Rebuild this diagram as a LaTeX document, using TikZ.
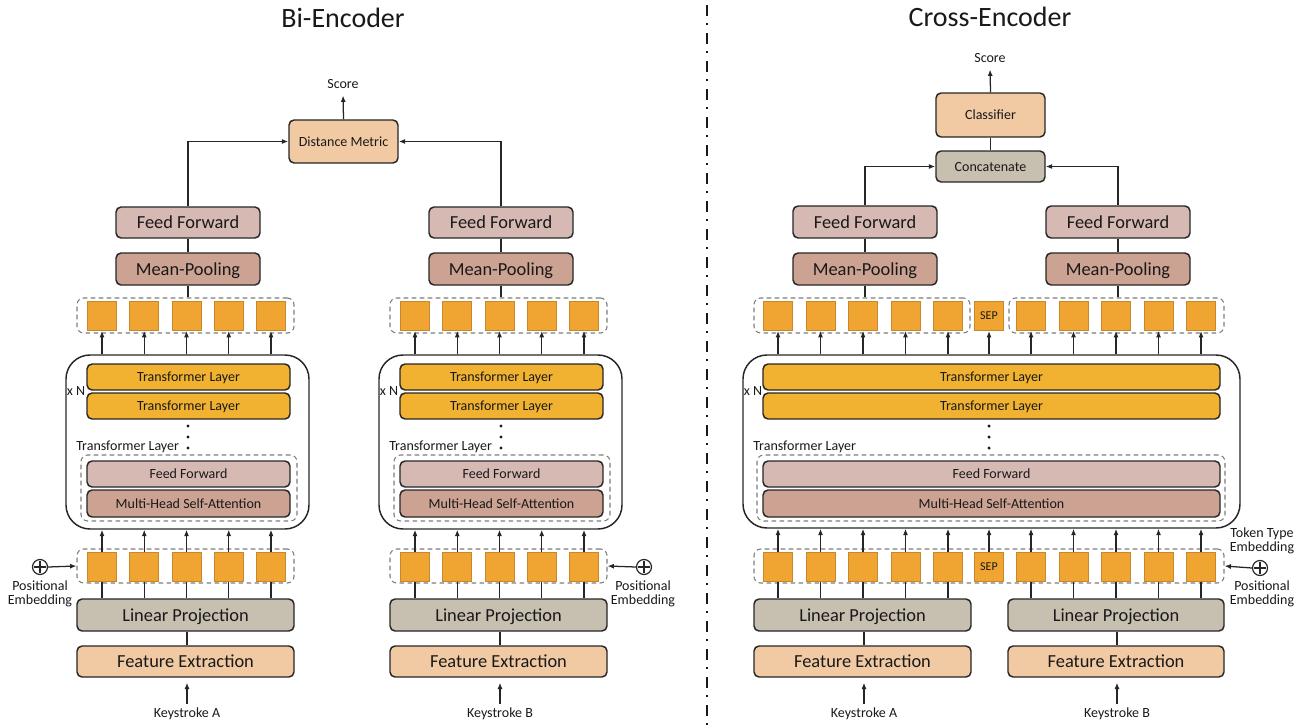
\documentclass[tikz,border=0pt]{standalone}
\usepackage{fontspec}
\setmainfont{Carlito}
\usetikzlibrary{arrows.meta,calc}

\definecolor{sq}{RGB}{240,165,50}
\definecolor{sqedge}{RGB}{200,135,40}
\definecolor{tl}{RGB}{240,178,48}
\definecolor{ff}{RGB}{214,185,179}
\definecolor{mp}{RGB}{204,162,146}
\definecolor{fe}{RGB}{241,202,164}
\definecolor{lp}{RGB}{199,191,175}
\definecolor{edge}{RGB}{38,38,38}
\definecolor{dash}{RGB}{125,125,125}
\definecolor{ink}{RGB}{25,25,25}

\tikzset{
  wh/.style 2 args={minimum width=#1*0.75pt, minimum height=#2*0.75pt},
  big/.style={font=\fontsize{13.8}{14}\selectfont, text=ink, text height=9pt, text depth=0pt},
  small/.style={font=\fontsize{10.5}{10.5}\selectfont, text=ink},
  title/.style={font=\fontsize{21}{22}\selectfont, text=ink},
  box/.style={draw=edge, line width=1.1pt, rounded corners=3.8pt, inner sep=0pt, big},
  layer/.style={box, small, text height=6.9pt, text depth=0pt},
  grp/.style={draw=dash, line width=0.8pt, dash pattern=on 3.5pt off 2.5pt, rounded corners=5pt, inner sep=0pt},
  enc/.style={draw=edge, line width=1.1pt, rounded corners=18pt, inner sep=0pt},
  sqr/.style={draw=sqedge, fill=sq, line width=0.7pt, minimum size=29*0.75pt, inner sep=0pt},
  plus/.style={circle, draw=edge, line width=0.9pt, minimum size=15*0.75pt, inner sep=0pt},
  dotn/.style={circle, fill=ink, minimum size=2.6pt, inner sep=0pt},
  conn/.style={draw=edge, line width=0.95pt},
  arr/.style={conn, -{Latex[length=4.8pt,width=3.8pt]}},
}

\begin{document}
\begin{tikzpicture}[x=0.75pt,y=-0.75pt]
\useasboundingbox (0,0) rectangle (1303,728);

% ---------------- Bi-Encoder ----------------
\node[title] (biT) at (343,18) {Bi-Encoder};
\node[small, inner sep=2pt] (scB) at (343,84) {Score};
\node[layer, fill=fe, wh={109}{43}] (dm) at (343.5,141.5) {Distance Metric};
\draw[arr, shorten >=3pt] (dm.north) -- (scB.south);

\foreach \s/\o/\k in {A/0/A,B/313/B}{
  \node[box, fill=ff, wh={144}{31}] (ff\s) at (188+\o,222.5) {Feed Forward};
  \node[box, fill=mp, wh={144}{32}] (mp\s) at (188+\o,269) {Mean-Pooling};
  \node[grp, wh={217}{35}] (out\s) at (185.5+\o,315.5) {};
  \foreach \i in {1,...,5}{
    \node[sqr] (o\s\i) at ({102+\o+42.25*(\i-1)},316) {};
  }
  \node[enc, wh={243}{174}] (enc\s) at (187.5+\o,442) {};
  \node[layer, fill=tl, wh={203}{26}] (tla\s) at (188.5+\o,377) {Transformer Layer};
  \node[layer, fill=tl, wh={203}{26}] (tlb\s) at (188.5+\o,406) {Transformer Layer};
  \node[dotn] (da\s) at (188+\o,426) {};
  \node[dotn] (db\s) at (188+\o,437) {};
  \node[dotn] (dc\s) at (188+\o,448) {};
  \node[small, inner sep=0pt] (xn\s) at (76+\o,391) {x N};
  \node[small, anchor=west, inner sep=0pt] (tll\s) at (76+\o,447) {Transformer Layer};
  \node[grp, wh={216}{66}] (blk\s) at (189+\o,488) {};
  \node[layer, fill=ff, wh={203}{26}] (ffi\s) at (188.5+\o,474) {Feed Forward};
  \node[layer, fill=mp, wh={203}{27}] (mh\s) at (188.5+\o,503.5) {Multi-Head Self-Attention};
  \node[grp, wh={217}{34}] (in\s) at (185.5+\o,566) {};
  \foreach \i in {1,...,5}{
    \node[sqr] (i\s\i) at ({102+\o+42.25*(\i-1)},567) {};
  }
  \node[box, fill=lp, wh={217}{32}] (lp\s) at (185.5+\o,615) {Linear Projection};
  \node[box, fill=fe, wh={217}{31}] (fe\s) at (185.5+\o,661.5) {Feature Extraction};
  \node[small, inner sep=3pt] (key\s) at (187+\o,714) {Keystroke \k};

  \draw[conn] (ff\s.south) -- (mp\s.north);
  \draw[conn] (mp\s.south) -- (mp\s.south |- out\s.north);
  \foreach \i in {1,...,5}{
    \draw[arr] (o\s\i.south |- enc\s.north) -- (o\s\i.south);
    \draw[arr] (i\s\i.north) -- (i\s\i.north |- enc\s.south);
    \draw[conn] (i\s\i.south) -- (i\s\i.south |- lp\s.north);
  }
  \draw[conn] (lp\s.south -| key\s.north) -- (fe\s.north -| key\s.north);
  \draw[arr, shorten >=3.7pt] (key\s.north) -- (key\s.north |- fe\s.south);
}

\draw[arr] (ffA.north) |- (dm.west);
\draw[arr] (ffB.north) |- (dm.east);

% positional embeddings of the two towers
\node[plus] (pA) at (40,567) {};
\draw[conn, line width=0.8pt] ($(pA.north)+(0,2.5)$) -- ($(pA.south)+(0,-2.5)$) ($(pA.west)+(2.5,0)$) -- ($(pA.east)+(-2.5,0)$);
\node[small, align=center, inner sep=0pt] (pAl) at (40,594) {Positional\\Embedding};
\draw[arr] (pA.east) -- (inA.west);

\node[plus] (pB) at (644,567) {};
\draw[conn, line width=0.8pt] ($(pB.north)+(0,2.5)$) -- ($(pB.south)+(0,-2.5)$) ($(pB.west)+(2.5,0)$) -- ($(pB.east)+(-2.5,0)$);
\node[small, align=center, inner sep=0pt] (pBl) at (643,594) {Positional\\Embedding};
\draw[arr] (pB.west) -- (inB.east);

% ---------------- divider ----------------
\draw[ink, line width=1.6pt, dash pattern=on 8.25pt off 5.25pt on 1.6pt off 5.9pt] (707,5) -- (707,728);

% ---------------- Cross-Encoder ----------------
\node[title] (crT) at (990,17) {Cross-Encoder};
\node[small, inner sep=2pt] (scC) at (990,58) {Score};
\node[layer, fill=fe, wh={109}{44}] (cls) at (990.5,115) {Classifier};
\node[layer, fill=lp, wh={109}{31}] (cat) at (990.5,166.5) {Concatenate};
\draw[arr, shorten >=3pt] (cls.north) -- (scC.south);
\draw[conn] (cls.south) -- (cat.north);

\foreach \s/\x in {1/865,2/1118}{
  \node[box, fill=ff, wh={144}{32}] (ffc\s) at (\x,222) {Feed Forward};
  \node[box, fill=mp, wh={144}{32}] (mpc\s) at (\x,269) {Mean-Pooling};
  \draw[conn] (ffc\s.south) -- (mpc\s.north);
}
\draw[arr] (ffc1.north) |- (cat.west);
\draw[arr] (ffc2.north) |- (cat.east);

\node[grp, wh={216}{35}] (outL) at (862,315.5) {};
\node[grp, wh={215}{35}] (outR) at (1116.5,315.5) {};
\draw[conn] (mpc1.south) -- (mpc1.south |- outL.north);
\draw[conn] (mpc2.south) -- (mpc2.south |- outR.north);

\node[enc, wh={497}{173}] (encC) at (991.5,441.5) {};
\node[layer, fill=tl, wh={457}{26}] (tlaC) at (991.5,377) {Transformer Layer};
\node[layer, fill=tl, wh={457}{26}] (tlbC) at (991.5,406) {Transformer Layer};
\node[dotn] (daC) at (989,426) {};
\node[dotn] (dbC) at (989,437) {};
\node[dotn] (dcC) at (989,448) {};
\node[small, inner sep=0pt] (xnC) at (753,391) {x N};
\node[small, anchor=west, inner sep=0pt] (tllC) at (753,447) {Transformer Layer};
\node[grp, wh={468}{66}] (blkC) at (991,488) {};
\node[layer, fill=ff, wh={457}{26}] (ffiC) at (991.5,474) {Feed Forward};
\node[layer, fill=mp, wh={457}{27}] (mhC) at (991.5,503.5) {Multi-Head Self-Attention};

\node[grp, wh={470}{34}] (inC) at (989,566) {};

\node[box, fill=lp, wh={217}{32}] (lpc1) at (862.5,615) {Linear Projection};
\node[box, fill=lp, wh={216}{32}] (lpc2) at (1116,615) {Linear Projection};
\node[box, fill=fe, wh={217}{31}] (fec1) at (862.5,661.5) {Feature Extraction};
\node[box, fill=fe, wh={216}{31}] (fec2) at (1116,661.5) {Feature Extraction};
\node[small, inner sep=3pt] (keyc1) at (864,714) {Keystroke A};
\node[small, inner sep=3pt] (keyc2) at (1117,714) {Keystroke B};
\foreach \s in {1,2}{
  \draw[conn] (lpc\s.south -| keyc\s.north) -- (fec\s.north -| keyc\s.north);
  \draw[arr, shorten >=3.7pt] (keyc\s.north) -- (keyc\s.north |- fec\s.south);
}

% output and input token rows with the separator token in the middle
\foreach \r/\y in {o/316,i/567}{
  \foreach \i in {1,...,5}{
    \node[sqr] (\r L\i) at ({778+42.5*(\i-1)},\y) {};
    \node[sqr] (\r R\i) at ({1031+42.5*(\i-1)},\y) {};
  }
  \node[sqr, font=\fontsize{9}{9}\selectfont, text=ink] (\r S) at (989,\y) {SEP};
}
\foreach \i in {1,...,5}{
  \draw[arr] (oL\i.south |- encC.north) -- (oL\i.south);
  \draw[arr] (oR\i.south |- encC.north) -- (oR\i.south);
  \draw[arr] (iL\i.north) -- (iL\i.north |- encC.south);
  \draw[arr] (iR\i.north) -- (iR\i.north |- encC.south);
  \draw[conn] (iL\i.south) -- (iL\i.south |- lpc1.north);
  \draw[conn] (iR\i.south) -- (iR\i.south |- lpc2.north);
}
\draw[arr] (oS.south |- encC.north) -- (oS.south);
\draw[arr] (iS.north) -- (iS.north |- encC.south);

% token type and positional embeddings
\node[plus] (pC) at (1260,568) {};
\draw[conn, line width=0.8pt] ($(pC.north)+(0,2.5)$) -- ($(pC.south)+(0,-2.5)$) ($(pC.west)+(2.5,0)$) -- ($(pC.east)+(-2.5,0)$);
\node[small, align=center, inner sep=0pt] (ttl) at (1262,541) {Token Type\\Embedding};
\node[small, align=center, inner sep=0pt] (pCl) at (1262,594) {Positional\\Embedding};
\draw[arr] (pC.west) -- (inC.east);
\end{tikzpicture}
\end{document}
